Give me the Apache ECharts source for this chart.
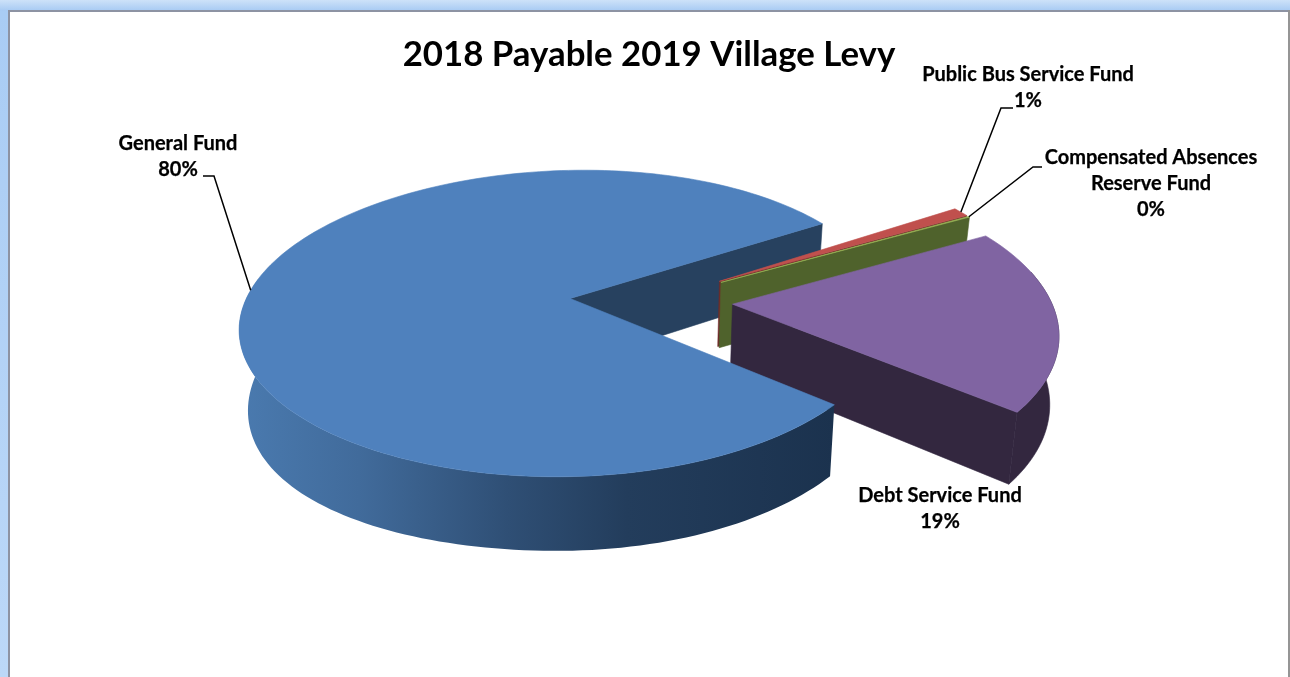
<!DOCTYPE html>
<html>
<head>
<meta charset="utf-8">
<title>2018 Payable 2019 Village Levy</title>
<script src="https://cdn.jsdelivr.net/npm/echarts@6/dist/echarts.min.js"></script>
<style>
  html, body { margin: 0; padding: 0; background: #fff; }
  #chart { width: 1290px; height: 677px; }
</style>
</head>
<body>
<div id="chart"></div>
<script>
// Levy shares, in percent of the total
const funds = ['General Fund', 'Public Bus Service Fund', 'Compensated Absences\nReserve Fund', 'Debt Service Fund'];
const shares = [80, 1, 0.1, 19];

// Slice appearance, one entry per fund
const topColors = ['#4f81bd', '#c0504d', '#9bbb59', '#8064a2'];
const wallColors = ['#27415f', '#6e2b29', '#4f622c', '#33273f'];

// Label placement: text centre, first line centre, leader elbow points
const labelCentres = [[178, 144], [1028, 75], [1151, 158], [940, 496]];
const leaderElbows = [[[214, 176], [203, 176]], [[1001, 108], [1013, 108]], [[1033, 167], [1042, 167]], null];

// Projection of the tilted disc onto the page
const view = { apexX: 570, apexY: 298, rx: 319.7, ry: 148.9, persp: 0.163, bow: 0.0165, flare: 0.004, shear: 6.5 };
const explode = { cu: 0.254, cv: 0.029, dist: 0.255 };
const rotation = -41.9;          // where the first slice starts, degrees, sweeping clockwise
const wall = { base: 66, tilt: 8, shrink: 0.022, vanishX: 640, leftBulge: 13 };
const wallHorizon = -0.2;        // rim points farther back than this have no visible wall

const total = shares.reduce((a, b) => a + b, 0);
const rad = d => d * Math.PI / 180;

function project(u, v) {
  const w = 1 - view.persp * v;
  const t = u / w;
  return [
    view.apexX + view.rx * (t - view.bow * t * t + view.flare * t * t * t),
    view.apexY + view.ry * v / w - view.shear * t
  ];
}
function drop(u, v) {
  const p = project(u, v);
  const t = u / (1 - view.persp * v);
  const bulge = t < 0 ? wall.leftBulge * t * t : 0;
  return [p[0] + (wall.vanishX - p[0]) * wall.shrink, p[1] + wall.base + wall.tilt * v + bulge];
}

// Angular span of each slice, clockwise from the rotation angle
function sliceSpan(index) {
  let from = rotation;
  for (let i = 0; i < index; i++) from -= shares[i] / total * 360;
  return { from, to: from - shares[index] / total * 360 };
}
function origin(index) {
  const s = sliceSpan(index);
  const mid = rad((s.from + s.to) / 2);
  return [explode.cu + explode.dist * Math.cos(mid), explode.cv - explode.dist * Math.sin(mid)];
}
function rimUV(index, deg) {
  const o = origin(index);
  return [o[0] + Math.cos(rad(deg)), o[1] - Math.sin(rad(deg))];
}
function rimAngles(from, to) {
  const n = Math.max(2, Math.ceil(Math.abs(from - to) / 1.5));
  const out = [];
  for (let i = 0; i <= n; i++) out.push(from + (to - from) * i / n);
  return out;
}
const poly = (points, fill, z2) => ({
  type: 'polygon',
  z2,
  shape: { points },
  style: { fill, stroke: typeof fill === 'string' ? fill : null, lineWidth: 0.6 }
});

function renderSlice(params, api) {
  const i = params.dataIndex;
  const s = sliceSpan(i);
  const o = origin(i);
  const apexTop = project(o[0], o[1]);
  const apexLow = drop(o[0], o[1]);
  const rimUVs = rimAngles(s.from, s.to).map(d => rimUV(i, d));
  const topShape = [apexTop].concat(rimUVs.map(p => project(p[0], p[1])));
  const children = [];

  // Back-to-front paint order: the general fund's inner wall, then the pulled-out
  // slices, then the general fund's top and outer wall over them.
  const layer = [10, 20, 30, 40][i];
  const frontLayer = i === 0 ? 50 : layer;

  // Flat wall along the slice's clockwise edge
  const e = rimUV(i, s.to);
  children.push(poly([apexTop, project(e[0], e[1]), drop(e[0], e[1]), apexLow], wallColors[i], layer));

  // Curved outer wall along the part of the rim facing the viewer
  const visible = rimUVs.filter(p => p[1] - o[1] >= wallHorizon);
  if (visible.length > 1) {
    const up = visible.map(p => project(p[0], p[1]));
    const low = visible.map(p => drop(p[0], p[1])).reverse();
    const fill = i === 0
      ? new echarts.graphic.LinearGradient(240, 0, 835, 0, [
          { offset: 0, color: '#4a7aaf' },
          { offset: 0.2, color: '#416b9b' },
          { offset: 0.45, color: '#2f4f75' },
          { offset: 0.65, color: '#233d5c' },
          { offset: 1, color: '#1b324e' }
        ], true)
      : wallColors[i];
    children.push(poly(up.concat(low), fill, frontLayer));
  }

  children.push(poly(topShape, topColors[i], frontLayer + 1));

  // Label and its leader line
  const pct = Math.round(api.value(0) / total * 100) + '%';
  const c = labelCentres[i];
  children.push({
    type: 'text',
    z2: 60,
    style: {
      x: c[0], y: c[1] - 13,
      text: funds[i] + '\n' + pct,
      fill: '#000',
      stroke: '#000',
      lineWidth: 0.25,
      font: 'bold 20px Lato',
      lineHeight: 26,
      align: 'center',
      verticalAlign: 'top'
    }
  });
  if (leaderElbows[i]) {
    const anchorUV = rimUV(i, (s.from + s.to) / 2);
    children.push({
      type: 'polyline',
      z2: 60,
      shape: { points: [project(anchorUV[0], anchorUV[1])].concat(leaderElbows[i]) },
      style: { stroke: '#000', lineWidth: 1.5, fill: null }
    });
  }
  return { type: 'group', children };
}

const chart = echarts.init(document.getElementById('chart'), null, { renderer: 'canvas' });
chart.setOption({
  animation: false,
  backgroundColor: '#ffffff',
  title: {
    text: '2018 Payable 2019 Village Levy',
    left: 644, top: 32, textAlign: 'center',
    textStyle: { fontFamily: 'Lato', fontWeight: 'bold', fontSize: 34.8, color: '#000' }
  },
  graphic: [
    // Window frame around the plot area
    { type: 'rect', z: -1, shape: { x: 0, y: 0, width: 1290, height: 11 }, style: { fill: new echarts.graphic.LinearGradient(0, 0, 0, 1, [{ offset: 0, color: '#cde2f9' }, { offset: 1, color: '#a7caf3' }]) } },
    { type: 'rect', z: -1, shape: { x: 0, y: 11, width: 8, height: 666 }, style: { fill: new echarts.graphic.LinearGradient(0, 0, 0, 1, [{ offset: 0, color: '#a9ccf4' }, { offset: 1, color: '#bcd8f8' }]) } },
    { type: 'rect', z: -1, shape: { x: 8, y: 10, width: 1282, height: 2 }, style: { fill: '#8d93a3' } },
    { type: 'rect', z: -1, shape: { x: 8, y: 10, width: 2, height: 667 }, style: { fill: '#8d93a3' } },
    { type: 'rect', z: -1, shape: { x: 1288, y: 10, width: 2, height: 667 }, style: { fill: '#959595' } }
  ],
  series: [{
    type: 'custom',
    coordinateSystem: 'none',
    renderItem: renderSlice,
    data: shares.map((v, i) => ({ name: funds[i], value: [v] })),
    silent: true
  }]
});
</script>
</body>
</html>
